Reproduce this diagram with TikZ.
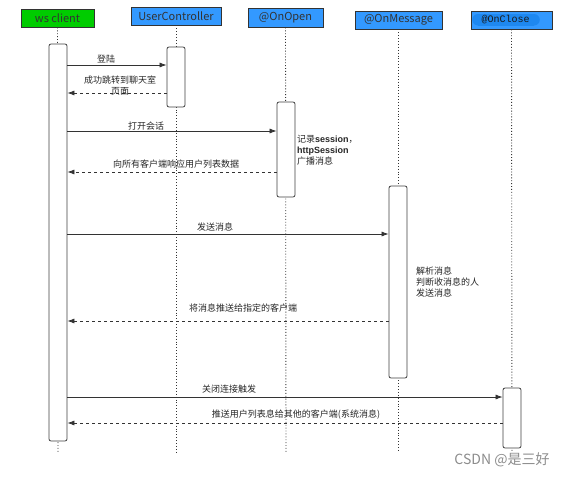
\documentclass[tikz,border=0pt]{standalone}
\usepackage{fontspec}
\setmainfont{Noto Sans CJK SC}
\newfontfamily\latinbold{Liberation Sans}
\newfontfamily\closefont{Liberation Mono}
\usetikzlibrary{arrows.meta,positioning}

\definecolor{wsgreen}{HTML}{00CC00}
\definecolor{headblue}{HTML}{3399FF}
\definecolor{smudge}{HTML}{1E88F0}

\tikzset{
  head/.style={draw=black!80, line width=0.9pt, inner sep=0pt,
    font=\fontsize{11}{13}\selectfont, text=black!80},
  actbox/.style={draw=black!75, fill=white, rounded corners=2pt,
    line width=0.8pt, minimum width=18pt, inner sep=0pt},
  life/.style={dotted, line width=0.9pt, black!80},
  call/.style={->, line width=0.7pt, black!80},
  reply/.style={->, dashed, line width=0.7pt, black!80},
  lbl/.style={font=\fontsize{9}{11}\selectfont, text=black!85, inner sep=0pt},
  note/.style={lbl, align=left, anchor=north west}
}

\begin{document}
\begin{tikzpicture}[x=1pt,y=-1pt,>={Latex[length=7pt,width=5pt]}]

\useasboundingbox (0,0) rectangle (567,477);

        % the heads
        \node[head, fill=wsgreen, minimum width=73pt, minimum height=18pt] (ws) at (57.5,18) {ws client};
        \node[head, fill=headblue, minimum width=90pt, minimum height=18pt] (uc) at (176,16) {UserController};
        \node[head, fill=headblue, minimum width=75pt, minimum height=19pt] (open) at (285.5,17.5) {@OnOpen};
        \node[head, fill=headblue, minimum width=87pt, minimum height=18pt] (msg) at (398.5,20) {@OnMessage};
        \node[head, fill=headblue, minimum width=81pt, minimum height=18pt] (close) at (511.5,20) {};
        \fill[smudge] (478,14) rectangle (534,25.5);
        \fill[smudge] (478,19.75) circle (5.75pt) (534,19.75) circle (5.75pt);
        \node[font=\closefont\fontsize{10}{12}\selectfont, text=black!90] (closetxt) at (505.5,19.5) {@OnClose};

        % the lifelines
        \coordinate (wsend) at (58,452);
        \coordinate (ucend) at (176,452);
        \coordinate (openend) at (286,452);
        \coordinate (msgend) at (398.5,452);
        \coordinate (closeend) at (512,452);
        \draw[life] (ws.south) -- (wsend);
        \draw[life] (uc.south) -- (ucend);
        \draw[life] (open.south) -- (openend);
        \draw[life] (msg.south) -- (msgend);
        \draw[life] (close.south) -- (closeend);

        % the activations
        \node[actbox, minimum height=397pt] (wsact) at (58,242.5) {};
        \node[actbox, minimum height=60pt] (ucact) at (176,77) {};
        \node[actbox, minimum height=95pt] (openact) at (286,149.5) {};
        \node[actbox, minimum height=192pt] (msgact) at (398,282) {};
        \node[actbox, minimum height=60pt] (closeact) at (512,418) {};

        % the messages
        \coordinate (m1) at (0,65);
        \coordinate (m2) at (0,93);
        \coordinate (m3) at (0,131);
        \coordinate (m4) at (0,172);
        \coordinate (m5) at (0,234);
        \coordinate (m6) at (0,321);
        \coordinate (m7) at (0,397);
        \coordinate (m8) at (0,423);
        \draw[call] (wsact.east |- m1) -- (ucact.west |- m1);
        \draw[reply] (ucact.west |- m2) -- (wsact.east |- m2);
        \draw[call] (wsact.east |- m3) -- (openact.west |- m3);
        \draw[reply] (openact.west |- m4) -- (wsact.east |- m4);
        \draw[call] (wsact.east |- m5) -- (msgact.west |- m5);
        \draw[reply] (msgact.west |- m6) -- (wsact.east |- m6);
        \draw[call] (wsact.east |- m7) -- (closeact.west |- m7);
        \draw[reply] (closeact.west |- m8) -- (wsact.east |- m8);

        % the labels
        \node[lbl] (t1) at (106,59) {登陆};
        \node[lbl, align=center] (t2) at (120,85.5) {成功跳转到聊天室\\页面};
        \node[lbl] (t3) at (146,126) {打开会话};
        \node[lbl] (t4) at (176,164) {向所有客户端响应用户列表数据};
        \node[lbl] (t5) at (215,227) {发送消息};
        \node[lbl] (t6) at (243,308) {将消息推送给指定的客户端};
        \node[lbl] (t7) at (229,389) {关闭连接触发};
        \node[lbl] (t8) at (296,415) {推送用户列表息给其他的客户端(系统消息)};

        % the notes
        \node[note] (n1) at (297,135) {记录{\latinbold\bfseries session}，\\{\latinbold\bfseries httpSession}\\广播消息};
        \node[note] (n2) at (416,267) {解析消息\\判断收消息的人\\发送消息};

        \node[text=black!45, font=\fontsize{14}{16}\selectfont] (mark) at (502,460) {CSDN @是三好};
    \end{tikzpicture}
\end{document}
